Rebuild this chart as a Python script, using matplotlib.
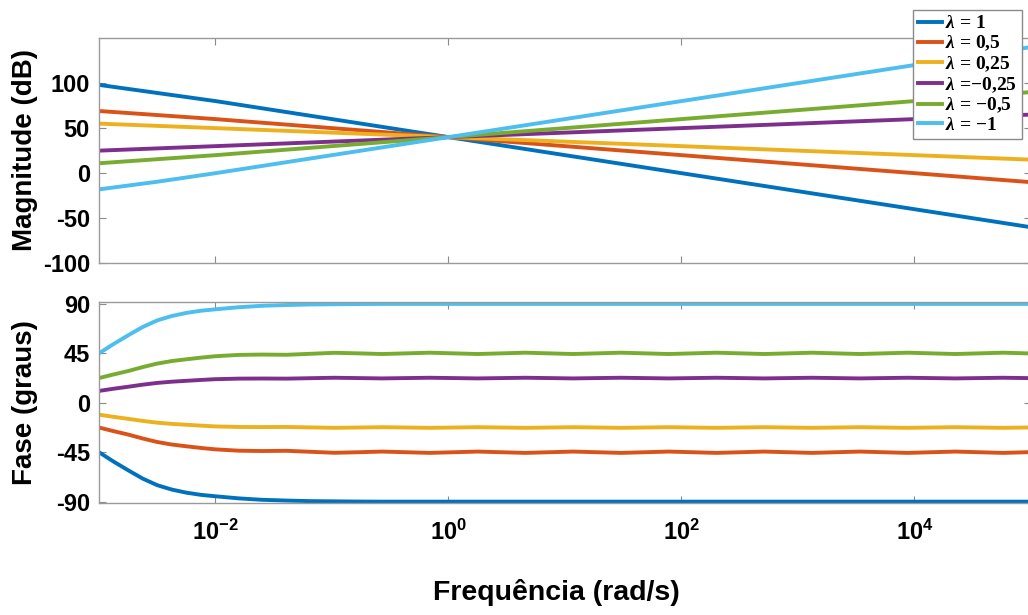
import numpy as np
import matplotlib
matplotlib.use('Agg')
import matplotlib.pyplot as plt
from matplotlib.ticker import NullLocator
from matplotlib.font_manager import FontProperties

plt.rcParams['font.family'] = ['Liberation Sans', 'DejaVu Sans']
plt.rcParams['font.weight'] = 'bold'
plt.rcParams['mathtext.fontset'] = 'custom'
plt.rcParams['mathtext.rm'] = 'Liberation Sans:bold'
plt.rcParams['mathtext.bf'] = 'Liberation Sans:bold'
plt.rcParams['mathtext.it'] = 'Liberation Serif:italic:bold'

# fractional orders and legend labels
labels = [r'$\lambda$ = 1', r'$\lambda$ = 0,5', r'$\lambda$ = 0,25',
          r'$\lambda$ =−0,25', r'$\lambda$ = −0,5', r'$\lambda$ = −1']
colors = ['#0072BD', '#D95319', '#EDB120', '#7E2F8E', '#77AC30', '#4DBEEE']

# magnitude (dB), sampled at 10**mag_exp rad/s
mag_exp = [-3, -2.5, -2, -1, 0, 1, 2, 3, 4, 5]
mag_l1 = [98, 89, 80, 60, 40, 20, 0, -20, -40, -60]
mag_l05 = [69, 64.5, 60, 50, 40, 30, 20, 10, 0, -10]
mag_l025 = [55, 52.5, 50, 45, 40, 35, 30, 25, 20, 15]
mag_lm025 = [25, 27.5, 30, 35, 40, 45, 50, 55, 60, 65]
mag_lm05 = [11, 15.5, 20, 30, 40, 50, 60, 70, 80, 90]
mag_lm1 = [-18, -9.5, 0, 20, 40, 60, 80, 100, 120, 140]

# phase (degrees), sampled at 10**ph_exp rad/s
ph_exp = [-3.0, -2.875, -2.75, -2.625, -2.5, -2.375, -2.25, -2.125, -2.0, -1.8,
          -1.6, -1.39, -1.185, -0.98, -0.775, -0.57, -0.365, -0.16, 0.045, 0.25,
          0.455, 0.66, 0.865, 1.07, 1.275, 1.48, 1.685, 1.89, 2.095, 2.30,
          2.505, 2.71, 2.915, 3.12, 3.325, 3.53, 3.735, 3.94, 4.145, 4.35,
          4.555, 4.76, 4.965, 5.0]
ph_l1 = [-45.0, -53.5, -61.4, -69.0, -75.0, -79.0, -81.8, -83.8, -85.1, -87.0,
         -88.3, -89.0, -89.5, -89.7, -89.9, -90, -90, -90, -90, -90,
         -90, -90, -90, -90, -90, -90, -90, -90, -90, -90,
         -90, -90, -90, -90, -90, -90, -90, -90, -90, -90,
         -90, -90, -90, -90]
ph_l05 = [-22.5, -25.8, -28.9, -32.5, -35.7, -38.0, -39.6, -41.1, -42.4, -43.6,
          -43.9, -43.7, -44.6, -45.5, -45.0, -44.4, -45.0, -45.6, -45.0, -44.4,
          -45.0, -45.6, -45.0, -44.4, -45.0, -45.6, -45.0, -44.4, -45.0, -45.6,
          -45.0, -44.4, -45.0, -45.6, -45.0, -44.4, -45.0, -45.6, -45.0, -44.4,
          -45.0, -45.6, -45.0, -44.9]
ph_l025 = [-10.8, -12.8, -14.6, -16.5, -18.1, -19.2, -20.0, -20.8, -21.5, -22.0,
           -22.1, -22.0, -22.4, -22.8, -22.5, -22.2, -22.5, -22.8, -22.5, -22.2,
           -22.5, -22.8, -22.5, -22.2, -22.5, -22.8, -22.5, -22.2, -22.5, -22.8,
           -22.5, -22.2, -22.5, -22.8, -22.5, -22.2, -22.5, -22.8, -22.5, -22.2,
           -22.5, -22.8, -22.5, -22.4]
ph_lm025 = [10.8, 12.8, 14.6, 16.5, 18.1, 19.2, 20.0, 20.8, 21.5, 22.0,
            22.1, 22.0, 22.4, 22.8, 22.5, 22.2, 22.5, 22.8, 22.5, 22.2,
            22.5, 22.8, 22.5, 22.2, 22.5, 22.8, 22.5, 22.2, 22.5, 22.8,
            22.5, 22.2, 22.5, 22.8, 22.5, 22.2, 22.5, 22.8, 22.5, 22.2,
            22.5, 22.8, 22.5, 22.4]
ph_lm05 = [22.5, 25.8, 28.9, 32.5, 35.7, 38.0, 39.6, 41.1, 42.4, 43.6,
           43.9, 43.7, 44.6, 45.5, 45.0, 44.4, 45.0, 45.6, 45.0, 44.4,
           45.0, 45.6, 45.0, 44.4, 45.0, 45.6, 45.0, 44.4, 45.0, 45.6,
           45.0, 44.4, 45.0, 45.6, 45.0, 44.4, 45.0, 45.6, 45.0, 44.4,
           45.0, 45.6, 45.0, 44.9]
ph_lm1 = [45.0, 53.5, 61.4, 69.0, 75.0, 79.0, 81.8, 83.8, 85.1, 87.0,
          88.3, 89.0, 89.5, 89.7, 89.9, 90, 90, 90, 90, 90,
          90, 90, 90, 90, 90, 90, 90, 90, 90, 90,
          90, 90, 90, 90, 90, 90, 90, 90, 90, 90,
          90, 90, 90, 90]

mags = [mag_l1, mag_l05, mag_l025, mag_lm025, mag_lm05, mag_lm1]
phases = [ph_l1, ph_l05, ph_l025, ph_lm025, ph_lm05, ph_lm1]

w_mag = 10.0 ** np.array(mag_exp)
w_ph = 10.0 ** np.array(ph_exp)

fig = plt.figure(figsize=(10.28, 6.15), dpi=100)
ax1 = fig.add_axes([0.0963, 0.5719, 0.9066, 0.3663])
ax2 = fig.add_axes([0.0963, 0.1816, 0.9066, 0.3269])

handles = []
for m, p, c in zip(mags, phases, colors):
    h, = ax1.plot(w_mag, m, color=c, lw=2.8)
    ax2.plot(w_ph, p, color=c, lw=2.8)
    handles.append(h)

for ax in (ax1, ax2):
    ax.set_xscale('log')
    ax.set_xlim(1e-3, 1e5)
    ax.set_xticks([1e-2, 1, 1e2, 1e4])
    ax.xaxis.set_minor_locator(NullLocator())
    ax.tick_params(direction='in', top=True, right=True, length=5, width=0.8,
                   color='#8a8a8a', labelsize=17)
    ax.tick_params(axis='y', pad=6.5)
    for s in ax.spines.values():
        s.set_color('#9a9a9a')
        s.set_linewidth(1.0)

ax1.set_ylim(-100, 150)
ax1.set_yticks([-100, -50, 0, 50, 100])
ax1.set_yticklabels(['-100', '-50', '0', '50', '100'])
ax1.tick_params(labelbottom=False)

ax2.set_ylim(-91.5, 91.5)
ax2.set_yticks([-90, -45, 0, 45, 90])
ax2.set_yticklabels(['-90', '-45', '0', '45', '90'])
ax2.set_xticklabels([r'$\mathbf{10^{-2}}$', r'$\mathbf{10^{0}}$',
                     r'$\mathbf{10^{2}}$', r'$\mathbf{10^{4}}$'])
ax2.tick_params(axis='x', pad=12, labelsize=17)

fig.text(0.0243, 0.756, 'Magnitude (dB)', rotation=90, ha='center', va='center',
         fontsize=20, fontweight='bold')
fig.text(0.0243, 0.346, 'Fase (graus)', rotation=90, ha='center', va='center',
         fontsize=20, fontweight='bold')
fig.text(0.541, 0.0358, 'Frequência (rad/s)', ha='center', va='center',
         fontsize=20.5, fontweight='bold')

leg = fig.legend(handles, labels, loc='upper left',
                 bbox_to_anchor=(913 / 1028, 1 - 10 / 615),
                 prop=FontProperties(family='Liberation Serif', weight='bold', size=14),
                 frameon=True, fancybox=False, framealpha=1, edgecolor='#8a8a8a',
                 borderpad=0.25, labelspacing=0.06, handlelength=1.25,
                 handletextpad=0.15, borderaxespad=0)
leg.get_frame().set_linewidth(1.0)

fig.savefig('out.png', dpi=100)
